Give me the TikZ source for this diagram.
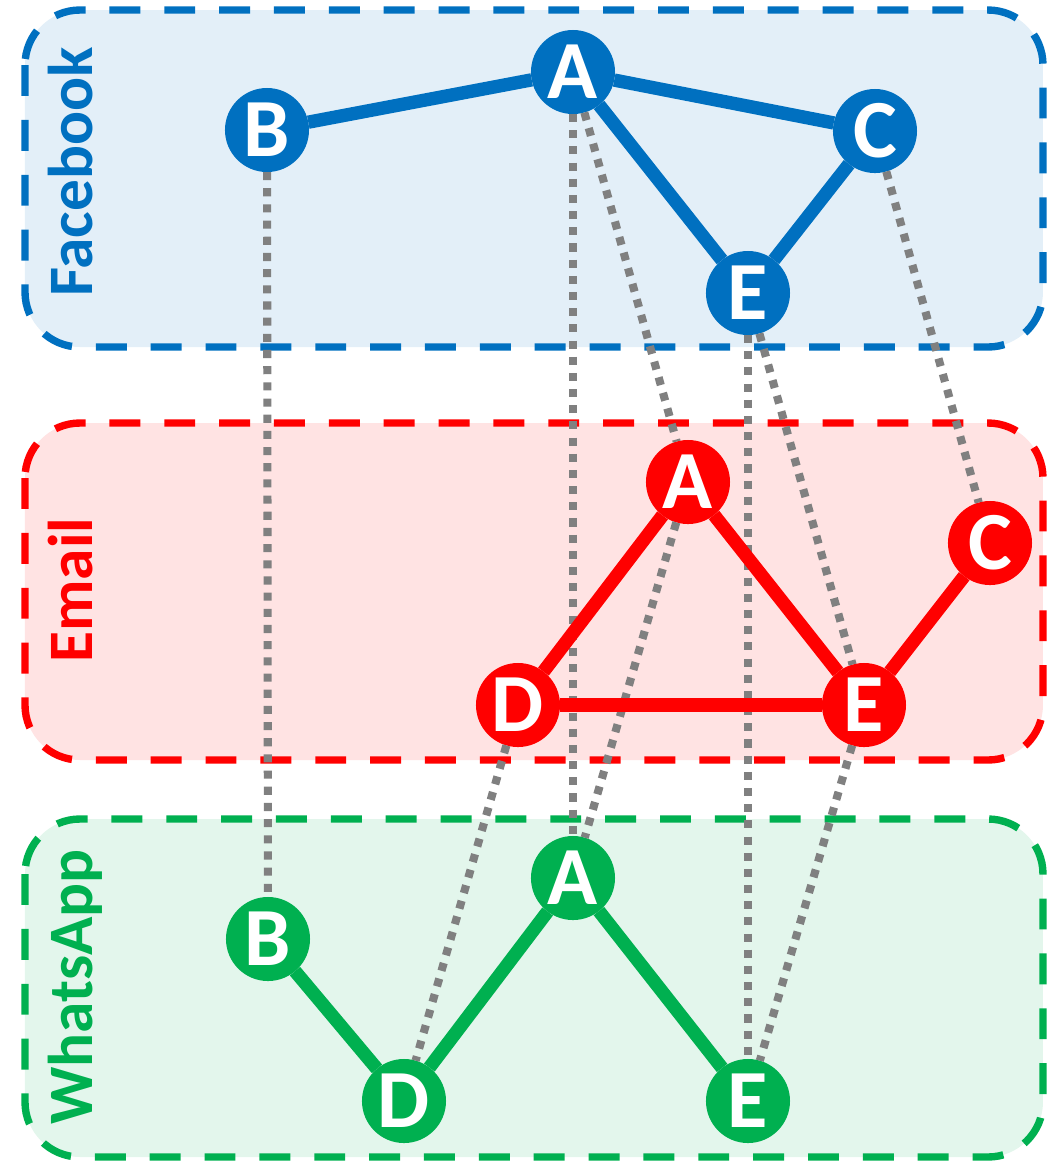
\documentclass[tikz,border=0pt]{standalone}
\usepackage{fontspec}
\setmainfont{Carlito}
\definecolor{fbblue}{HTML}{0070C0}
\definecolor{mailred}{HTML}{FF0000}
\definecolor{wagreen}{HTML}{00B050}
\begin{document}
\begin{tikzpicture}[x=0.01cm,y=-0.01cm,
  layer/.style={draw=#1,fill=#1!11,line width=2.1pt,dash pattern=on 8.8pt off 6.8pt,rounded corners=0.55cm},
  tag/.style={text=#1,rotate=90,anchor=base,font=\fontsize{18}{20}\selectfont\bfseries},
  user/.style={circle,fill=#1,text=white,minimum size=0.84cm,inner sep=0pt,outer sep=0pt,font=\fontsize{23.5}{26}\selectfont\bfseries},
  link/.style={draw=#1,line width=3.8pt},
  interlink/.style={draw=gray,line width=2.3pt,dash pattern=on 2.3pt off 2.3pt}
]
  \useasboundingbox (0,0) rectangle (1056,1162);
  % the three networks
  \draw[layer=fbblue] (25,10) rectangle (1043,347);
  \draw[layer=mailred] (25,423) rectangle (1043,760);
  \draw[layer=wagreen] (25,819) rectangle (1043,1157);
  \node[tag=fbblue] (fb) at (93,172) {Facebook};
  \node[tag=mailred] (mail) at (93,590) {Email};
  \node[tag=wagreen] (wa) at (93,987) {WhatsApp};
  % users
  \node[user=fbblue] (fbB) at (267,130) {B};
  \node[user=fbblue] (fbA) at (573,72) {A};
  \node[user=fbblue] (fbC) at (875,131) {C};
  \node[user=fbblue] (fbE) at (748,293) {E};
  \node[user=mailred] (mailA) at (688,482) {A};
  \node[user=mailred] (mailC) at (990,543) {C};
  \node[user=mailred] (mailD) at (518,705) {D};
  \node[user=mailred] (mailE) at (864,705) {E};
  \node[user=wagreen] (waB) at (268,939) {B};
  \node[user=wagreen] (waA) at (573,878) {A};
  \node[user=wagreen] (waD) at (404,1101) {D};
  \node[user=wagreen] (waE) at (748,1101) {E};
  % same user across networks
  \foreach \u/\v in {fbB/waB,fbA/waA,fbA/mailA,fbC/mailC,fbE/mailE,fbE/waE,mailA/waA,mailD/waD,mailE/waE}
    \draw[interlink] (\u) -- (\v);
  % edges inside each network
  \foreach \u/\v in {fbB/fbA,fbA/fbC,fbA/fbE,fbC/fbE}
    \draw[link=fbblue] (\u) -- (\v);
  \foreach \u/\v in {mailA/mailD,mailA/mailE,mailD/mailE,mailE/mailC}
    \draw[link=mailred] (\u) -- (\v);
  \foreach \u/\v in {waB/waD,waD/waA,waA/waE}
    \draw[link=wagreen] (\u) -- (\v);
\end{tikzpicture}
\end{document}
